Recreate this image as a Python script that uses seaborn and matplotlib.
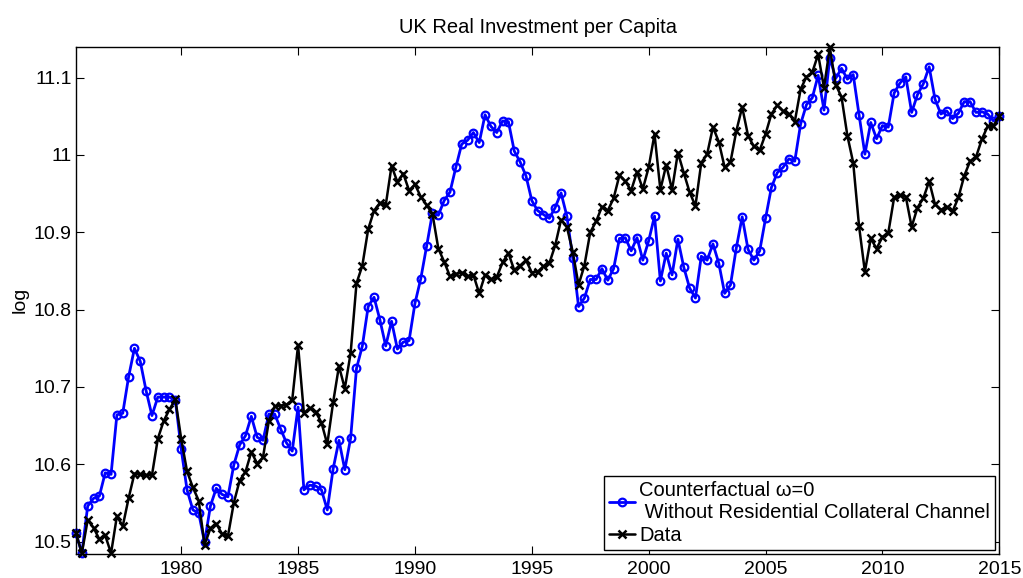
import numpy as np
import matplotlib
matplotlib.use('Agg')
import matplotlib.pyplot as plt
import seaborn as sns

# quarterly time axis, 1975Q3 .. 2015Q1
quarters = np.arange(1975.5, 2015.01, 0.25)

# counterfactual (omega = 0)
counterfactual = [
    10.511, 10.485, 10.546, 10.556, 10.559, 10.589, 10.587, 10.664, 10.666, 10.713,
    10.750, 10.733, 10.695, 10.663, 10.687, 10.687, 10.687, 10.683, 10.620, 10.567,
    10.541, 10.537, 10.499, 10.546, 10.569, 10.561, 10.558, 10.599, 10.625, 10.637,
    10.662, 10.635, 10.631, 10.665, 10.665, 10.646, 10.628, 10.617, 10.674, 10.567,
    10.573, 10.572, 10.567, 10.541, 10.594, 10.631, 10.593, 10.634, 10.724, 10.753,
    10.804, 10.816, 10.787, 10.753, 10.785, 10.749, 10.758, 10.760, 10.808, 10.840,
    10.882, 10.925, 10.922, 10.941, 10.952, 10.984, 11.014, 11.019, 11.029, 11.016,
    11.052, 11.037, 11.029, 11.044, 11.043, 11.005, 10.991, 10.973, 10.941, 10.928,
    10.923, 10.918, 10.932, 10.951, 10.921, 10.867, 10.804, 10.815, 10.839, 10.839,
    10.853, 10.838, 10.853, 10.892, 10.893, 10.876, 10.893, 10.864, 10.889, 10.921,
    10.837, 10.873, 10.845, 10.891, 10.855, 10.828, 10.815, 10.869, 10.864, 10.885,
    10.860, 10.821, 10.832, 10.880, 10.920, 10.878, 10.864, 10.876, 10.918, 10.958,
    10.977, 10.984, 10.995, 10.992, 11.040, 11.065, 11.074, 11.103, 11.058, 11.126,
    11.099, 11.112, 11.098, 11.104, 11.052, 11.001, 11.042, 11.021, 11.038, 11.036,
    11.080, 11.093, 11.101, 11.055, 11.078, 11.092, 11.114, 11.072, 11.053, 11.057,
    11.047, 11.054, 11.069, 11.069, 11.055, 11.056, 11.053, 11.044, 11.050,
]

# actual data
data_series = [
    10.511, 10.485, 10.528, 10.518, 10.503, 10.508, 10.485, 10.533, 10.520, 10.556,
    10.588, 10.587, 10.586, 10.586, 10.633, 10.656, 10.671, 10.684, 10.633, 10.591,
    10.570, 10.553, 10.496, 10.517, 10.523, 10.510, 10.507, 10.550, 10.579, 10.590,
    10.616, 10.601, 10.609, 10.656, 10.675, 10.676, 10.677, 10.683, 10.754, 10.666,
    10.673, 10.668, 10.654, 10.626, 10.680, 10.727, 10.698, 10.744, 10.834, 10.857,
    10.904, 10.928, 10.938, 10.935, 10.986, 10.965, 10.976, 10.954, 10.962, 10.946,
    10.935, 10.924, 10.879, 10.862, 10.843, 10.846, 10.848, 10.843, 10.845, 10.821,
    10.845, 10.839, 10.842, 10.861, 10.873, 10.851, 10.857, 10.864, 10.848, 10.849,
    10.856, 10.860, 10.883, 10.916, 10.907, 10.875, 10.832, 10.857, 10.900, 10.914,
    10.933, 10.928, 10.944, 10.974, 10.966, 10.954, 10.978, 10.956, 10.984, 11.027,
    10.955, 10.987, 10.955, 11.003, 10.977, 10.952, 10.934, 10.990, 11.001, 11.036,
    11.017, 10.984, 10.991, 11.031, 11.062, 11.025, 11.011, 11.006, 11.027, 11.053,
    11.064, 11.057, 11.053, 11.043, 11.085, 11.101, 11.107, 11.130, 11.087, 11.139,
    11.091, 11.075, 11.025, 10.990, 10.908, 10.849, 10.892, 10.879, 10.894, 10.899,
    10.945, 10.948, 10.946, 10.907, 10.932, 10.944, 10.966, 10.936, 10.929, 10.933,
    10.927, 10.945, 10.973, 10.992, 10.997, 11.020, 11.037, 11.038, 11.050,
]

x_ticks = [1980, 1985, 1990, 1995, 2000, 2005, 2010, 2015]
y_ticks = [10.5, 10.6, 10.7, 10.8, 10.9, 11.0, 11.1]
y_tick_labels = ['10.5', '10.6', '10.7', '10.8', '10.9', '11', '11.1']

sns.set_style('ticks')
plt.rcParams['font.family'] = ['Liberation Sans', 'DejaVu Sans']
plt.rcParams['text.color'] = 'black'
plt.rcParams['axes.labelcolor'] = 'black'

fig = plt.figure(figsize=(10.23, 5.78), dpi=100)
ax = fig.add_axes([76 / 1023, 1 - 554 / 578, (999.3 - 76) / 1023, (554 - 46.7) / 578])

sns.lineplot(x=quarters, y=counterfactual, ax=ax, color='#0000ff', linewidth=2,
             marker='o', markersize=5.5, markerfacecolor='none',
             markeredgecolor='#0000ff', markeredgewidth=1.6,
             label='Counterfactual \u03c9=0\n Without Residential Collateral Channel',
             clip_on=False)
sns.lineplot(x=quarters, y=data_series, ax=ax, color='black', linewidth=1.8,
             marker='x', markersize=6, markeredgewidth=1.8, markeredgecolor='black',
             label='Data', clip_on=False)

ax.set_xlim(1975.5, 2015)
ax.set_ylim(10.484, 11.14)
ax.set_xticks(x_ticks)
ax.set_yticks(y_ticks)
ax.set_yticklabels(y_tick_labels)
ax.tick_params(direction='in', length=6, width=0.8, top=True, right=True,
               labelsize=14, colors='black')
ax.tick_params(axis='x', pad=5)
ax.tick_params(axis='y', pad=3)
for s in ax.spines.values():
    s.set_linewidth(1.0)
    s.set_color('black')

ax.set_title('UK Real Investment per Capita', fontsize=14.5, pad=10, color='black')
ax.set_ylabel('log', fontsize=14, color='black')
ax.set_xlabel('')

leg = ax.legend(loc='lower right', fontsize=14.5, frameon=True, fancybox=False,
                edgecolor='black', framealpha=1, handlelength=1.3, handletextpad=0.2,
                borderpad=0.25, labelspacing=0.2, borderaxespad=0.2)
leg.get_frame().set_linewidth(1.0)
for t in leg.get_texts():
    t.set_color('black')

fig.savefig('out.png', dpi=100)
